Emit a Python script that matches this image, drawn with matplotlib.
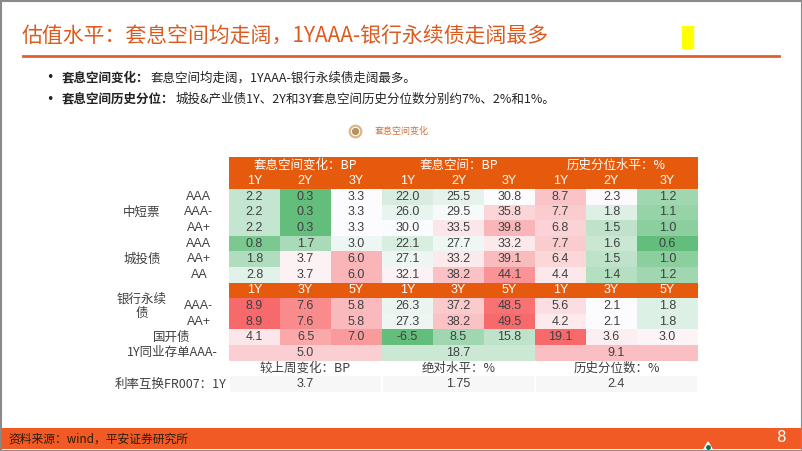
import matplotlib.pyplot as plt
from matplotlib.patches import Rectangle, Polygon
import numpy as np

# ---- data ----
title = "估值水平：套息空间均走阔，1YAAA-银行永续债走阔最多"
bullets = [
    ("套息空间变化：", "套息空间均走阔，1YAAA-银行永续债走阔最多。"),
    ("套息空间历史分位：", "城投&产业债1Y、2Y和3Y套息空间历史分位数分别约7%、2%和1%。"),
]
group_headers = ["套息空间变化：BP", "套息空间：BP", "历史分位水平：%"]
tenors_top = ["1Y", "2Y", "3Y"]
tenors_bank = ["1Y", "3Y", "5Y"]
ratings_top = ["AAA", "AAA-", "AA+", "AAA", "AA+", "AA"]
ratings_bank = ["AAA-", "AA+"]

spread_chg = [[2.2, 0.3, 3.3], [2.2, 0.3, 3.3], [2.2, 0.3, 3.3],
              [0.8, 1.7, 3.0], [1.8, 3.7, 6.0], [2.8, 3.7, 6.0],
              [8.9, 7.6, 5.8], [8.9, 7.6, 5.8], [4.1, 6.5, 7.0]]
spread_lvl = [[22.0, 25.5, 30.8], [26.0, 29.5, 35.8], [30.0, 33.5, 39.8],
              [22.1, 27.7, 33.2], [27.1, 33.2, 39.1], [32.1, 38.2, 44.1],
              [26.3, 37.2, 48.5], [27.3, 38.2, 49.5], [-6.5, 8.5, 15.8]]
pctile = [[8.7, 2.3, 1.2], [7.7, 1.8, 1.1], [6.8, 1.5, 1.0],
          [7.7, 1.6, 0.6], [6.4, 1.5, 1.0], [4.4, 1.4, 1.2],
          [5.6, 2.1, 1.8], [4.2, 2.1, 1.8], [19.1, 3.6, 3.0]]
ncd_values = [5.0, 18.7, 9.1]
irs_headers = ["较上周变化：BP", "绝对水平：%", "历史分位数：%"]
irs_values = ["3.7", "1.75", "2.4"]

# ---- layout (pixels) ----
ORANGE = "#E65A0E"
TXT = "#404040"
CJK = ["Noto Sans CJK SC", "DejaVu Sans"]
NUM = ["Liberation Sans", "Noto Sans CJK SC"]

col_edges = [229, 280, 331, 382, 433, 484, 535, 586, 637, 698]
row_h = [16, 16] + [15.6] * 13
row_edges = np.concatenate([[157], 157 + np.cumsum(row_h)])


def row_mid(i):
    return (row_edges[i] + row_edges[i + 1]) / 2


def col_mid(j):
    return (col_edges[j] + col_edges[j + 1]) / 2


def scale_color(v, vals):
    lo, med, hi = np.min(vals), np.median(vals), np.max(vals)
    green = np.array([0x63, 0xBE, 0x7B]) / 255
    white = np.array([0xFC, 0xFC, 0xFF]) / 255
    red = np.array([0xF8, 0x69, 0x6B]) / 255
    if v <= med:
        t = (med - v) / (med - lo)
        return tuple(white + (green - white) * t)
    t = (v - med) / (hi - med)
    return tuple(white + (red - white) * t)


fig = plt.figure(figsize=(8.02, 4.51), dpi=100)
ax = fig.add_axes([0, 0, 1, 1])
ax.set_xlim(0, 802)
ax.set_ylim(451, 0)
ax.axis("off")

# slide frame
ax.add_patch(Rectangle((0.5, 0.5), 801, 450, fill=False, ec="#8a8a8a", lw=1.5))

# title
ax.text(22, 37, title, fontsize=15, color="#DC5A1E", family=CJK, va="center")
ax.plot([23, 779], [56, 56], color="#E0602A", lw=2)
ax.add_patch(Rectangle((682, 26), 11, 22, color="#FFFF00"))

# bullets
fig.canvas.draw()
for k, (bold, rest) in enumerate(bullets):
    y = 78 + k * 21
    ax.text(46, y, "•", fontsize=9, color="#222222", va="center")
    t = ax.text(62, y, bold, fontsize=9, weight="bold", color="#222222",
                family=CJK, va="center")
    bb = t.get_window_extent(renderer=fig.canvas.get_renderer())
    x_end = ax.transData.inverted().transform((bb.x1, bb.y0))[0]
    ax.text(x_end + 1, y, rest, fontsize=9, color="#222222", family=CJK, va="center")

# small legend
ax.scatter([355], [131], s=70, facecolor="white", edgecolor="#D9B48A", lw=1.5)
ax.scatter([355], [131], s=18, color="#B8925A")
ax.text(375, 131, "套息空间变化", fontsize=6.5, color="#C8753A", family=CJK, va="center")

# orange header rows
for r in [0, 1, 8]:
    ax.add_patch(Rectangle((col_edges[0], row_edges[r]), col_edges[-1] - col_edges[0],
                           row_edges[r + 1] - row_edges[r], color=ORANGE, lw=0))
for g, name in enumerate(group_headers):
    xc = (col_edges[3 * g] + col_edges[3 * g + 3]) / 2
    ax.text(xc, row_mid(0), name, fontsize=9, color="white", family=CJK,
            ha="center", va="center")
    for j in range(3):
        ax.text(col_mid(3 * g + j), row_mid(1), tenors_top[j], fontsize=9,
                color="white", family=NUM, ha="center", va="center")
        ax.text(col_mid(3 * g + j), row_mid(8), tenors_bank[j], fontsize=9,
                color="white", family=NUM, ha="center", va="center")

# heatmap cells
blocks = [spread_chg, spread_lvl, pctile]
data_rows = [2, 3, 4, 5, 6, 7, 9, 10, 11]
for g, block in enumerate(blocks):
    flat = np.array(block).ravel()
    for i, r in enumerate(data_rows):
        for j in range(3):
            v = block[i][j]
            c = 3 * g + j
            ax.add_patch(Rectangle((col_edges[c], row_edges[r]),
                                   col_edges[c + 1] - col_edges[c],
                                   row_edges[r + 1] - row_edges[r],
                                   color=scale_color(v, flat), lw=0))
            ax.text(col_mid(c), row_mid(r), f"{v:.1f}", fontsize=9, color=TXT,
                    family=NUM, ha="center", va="center")
    # merged NCD row
    x0, x1 = col_edges[3 * g], col_edges[3 * g + 3]
    ax.add_patch(Rectangle((x0, row_edges[12]), x1 - x0, row_edges[13] - row_edges[12],
                           color=scale_color(ncd_values[g], flat), lw=0))
    ax.text((x0 + x1) / 2, row_mid(12), f"{ncd_values[g]:.1f}", fontsize=9, color=TXT,
            family=NUM, ha="center", va="center")
    # IRS rows
    ax.text((x0 + x1) / 2, row_mid(13), irs_headers[g], fontsize=9, color=TXT,
            family=CJK, ha="center", va="center")
    ax.add_patch(Rectangle((x0 + 1, row_edges[14]), x1 - x0 - 2, row_edges[15] - row_edges[14],
                           color="#F7F7F7", lw=0))
    ax.text((x0 + x1) / 2, row_mid(14), irs_values[g], fontsize=9, color=TXT,
            family=NUM, ha="center", va="center")

# row labels
for i, lab in enumerate(ratings_top):
    ax.text(199, row_mid(2 + i), lab, fontsize=9, color=TXT, family=NUM,
            ha="center", va="center")
for i, lab in enumerate(ratings_bank):
    ax.text(199, row_mid(9 + i), lab, fontsize=9, color=TXT, family=NUM,
            ha="center", va="center")
ax.text(142, row_mid(3), "中短票", fontsize=9, color=TXT, family=CJK, ha="center", va="center")
ax.text(142, row_mid(6), "城投债", fontsize=9, color=TXT, family=CJK, ha="center", va="center")
ax.text(142, row_mid(9), "银行永续\n债", fontsize=9, color=TXT, family=CJK,
        ha="center", va="center", linespacing=1.1)
ax.text(172, row_mid(11), "国开债", fontsize=9, color=TXT, family=CJK, ha="center", va="center")
ax.text(172, row_mid(12), "1Y同业存单AAA-", fontsize=9, color=TXT, family=CJK,
        ha="center", va="center")
ax.text(171, row_mid(14), "利率互换FR007：1Y", fontsize=9, color=TXT, family=CJK,
        ha="center", va="center")

# footer
ax.add_patch(Rectangle((1, 428), 800, 21, color="#F15A24", lw=0))
ax.text(8, 439, "资料来源：wind，平安证券研究所", fontsize=8.5, color="#2B1D10",
        family=CJK, va="center")
ax.text(782, 438, "8", fontsize=11, color="white", ha="center", va="center")
ax.add_patch(Polygon([[704, 449], [712, 449], [708, 442]], closed=True,
                     fc="white", ec="white"))
ax.scatter([708], [447], s=6, color="#0B6B4F", zorder=5)

fig.savefig("out.png", dpi=100)
